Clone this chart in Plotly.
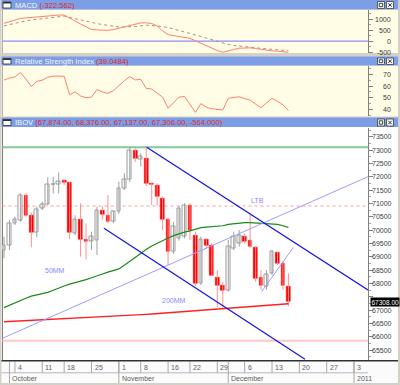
import plotly.graph_objects as go

W, H = 400, 385
def px(x): return x / W
def py(y): return 1 - y / H

# ---------------- data ----------------
dates = ["Sep 30", "Oct 1", "Oct 4", "Oct 5", "Oct 6", "Oct 7", "Oct 8", "Oct 11", "Oct 13", "Oct 14",
         "Oct 15", "Oct 18", "Oct 19", "Oct 20", "Oct 21", "Oct 22", "Oct 25", "Oct 26", "Oct 27", "Oct 28",
         "Oct 29", "Nov 1", "Nov 3", "Nov 4", "Nov 5", "Nov 8", "Nov 9", "Nov 10", "Nov 11", "Nov 12",
         "Nov 16", "Nov 17", "Nov 18", "Nov 19", "Nov 22", "Nov 23", "Nov 24", "Nov 25", "Nov 26", "Nov 29",
         "Nov 30", "Dec 1", "Dec 2", "Dec 3", "Dec 6", "Dec 7", "Dec 8", "Dec 9", "Dec 10", "Dec 13",
         "Dec 14", "Dec 15", "Dec 16"]
opens = [69250, 69437, 70250, 70375, 71312, 70562, 69900, 70812, 70962, 71690,
         71712, 71850, 71775, 69875, 70412, 69662, 69562, 69625, 70750, 70562,
         70312, 70687, 71562, 71900, 73000, 72650, 72687, 71750, 71662, 71187,
         70400, 69187, 69687, 69750, 70937, 69812, 68000, 69650, 69437, 68225,
         67937, 67750, 69312, 69500, 69775, 69625, 69350, 68225, 67875, 68375,
         69150, 68750, 67874]
highs = [69750, 70375, 70500, 71375, 71375, 70650, 70875, 71062, 71975, 72000,
         72162, 71900, 71812, 70550, 71000, 70250, 69937, 70875, 70875, 71312,
         70750, 71812, 72125, 73125, 73062, 72875, 73125, 71775, 71750, 71250,
         70450, 70300, 70900, 71000, 71000, 69937, 69750, 69687, 69500, 68500,
         68062, 69625, 69937, 70000, 69875, 70562, 69400, 68500, 68500, 69250,
         69187, 68812, 68376]
lows = [68937, 69250, 70187, 70312, 70500, 69350, 69725, 70750, 70937, 71375,
        71375, 71687, 69650, 69800, 69000, 68900, 69250, 69062, 70400, 70250,
        70250, 70600, 71500, 71800, 72550, 72375, 71650, 70937, 70912, 70000,
        68687, 69100, 69600, 69687, 69625, 67900, 67937, 69300, 68275, 67100,
        67090, 67687, 69250, 69375, 69500, 69312, 68062, 67750, 67750, 68312,
        68687, 67750, 67137]
closes = [69437, 70250, 70412, 71312, 70562, 69900, 70775, 70962, 71712, 71712,
          71837, 71775, 69900, 70412, 69662, 69562, 69750, 70750, 70600, 70337,
          70687, 71562, 71900, 73000, 72687, 72775, 71750, 71700, 71250, 70400,
          69187, 70125, 70812, 70937, 70000, 68000, 69650, 69437, 68312, 67937,
          67750, 69375, 69750, 69812, 69562, 69375, 68187, 67937, 68350, 69187,
          68750, 67937, 67306]
ma50 = [67090, 67180, 67280, 67380, 67440, 67520, 67570, 67600, 67660, 67740,
        67830, 67900, 67970, 68020, 68070, 68140, 68210, 68270, 68350, 68420,
        68470, 68540, 68680, 68830, 68990, 69140, 69270, 69400, 69510, 69610,
        69700, 69790, 69860, 69920, 69970, 70020, 70090, 70110, 70120, 70130,
        70160, 70210, 70240, 70265, 70275, 70275, 70265, 70250, 70240, 70230,
        70210, 70160, 70100]
ma200 = [66560, 66570, 66580, 66590, 66600, 66610, 66620, 66628, 66636, 66645,
         66654, 66663, 66672, 66681, 66690, 66700, 66710, 66720, 66730, 66740,
         66752, 66764, 66776, 66790, 66805, 66820, 66835, 66850, 66866, 66882,
         66898, 66914, 66930, 66946, 66962, 66978, 66995, 67010, 67025, 67040,
         67055, 67070, 67085, 67100, 67115, 67130, 67145, 67160, 67175, 67190,
         67205, 67220, 67235]
macd = [810, 885, 960, 1031, 1055, 1078, 1101, 1126, 1148, 1171,
        1184, 1184, 1037, 909, 777, 654, 529, 508, 493, 493,
        524, 585, 654, 723, 785, 831, 831, 800, 693, 462,
        293, 247, 217, 171, 125, 17, -90, -229, -321, -428,
        -505, -459, -382, -321, -306, -306, -336, -382, -428, -444,
        -459, -474, -505]
signal = [693, 754, 816, 877, 923, 962, 992, 1023, 1061, 1092,
          1115, 1138, 1077, 1015, 954, 893, 847, 800, 754, 708,
          662, 647, 647, 647, 662, 693, 724, 708, 693, 662,
          616, 555, 493, 432, 370, 293, 217, 140, 63, -13,
          -90, -152, -198, -229, -259, -275, -305, -328, -352, -375,
          -398, -413, -428]
rsi = [65, 66.8, 67.8, 71.5, 66, 59.5, 64, 65, 67.5, 68.4,
       68.5, 68.3, 52.5, 55, 51.5, 50, 50.5, 57, 54.8, 53.7,
       56, 60.5, 64.5, 68, 65.2, 65.7, 58, 57.4, 54, 50.5,
       41, 45.5, 50.5, 51, 44.4, 37.5, 45, 41.8, 40.5, 40,
       39.5, 49.5, 50.3, 50.8, 49.2, 48, 44.5, 41.5, 45.5, 49.5,
       47, 44, 39]

# trend lines (trading-day index, value)
ltb_x, ltb_y = [26.09, 66.55], [73100, 67750]
chan_x, chan_y = [18.28, 55.03], [70063, 65150]
lta_x, lta_y = [-0.27, 66.55], [65940, 71999]
lta2_x, lta2_y = [47.11, 52.89], [67687, 69344]
resist_level = 73100
dotted_level = 70900
support_level = 65850

ibov_ticks = [73500, 73000, 72500, 72000, 71500, 71000, 70500, 70000, 69500, 69000,
              68500, 68000, 67000, 66500, 66000, 65500]
macd_ticks = [1000, 500, 0, -500]
rsi_ticks = [70, 60, 50, 40]
week_idx = [2, 7, 11, 16, 21, 25, 30, 34, 39, 44, 49, 54, 59, 64]
week_lbl = ["4", "11", "18", "25", "1", "8", "16", "22", "29", "6", "13", "20", "27", "3"]
month_idx = [1, 21, 41, 64]
month_lbl = ["October", "November", "December", "2011"]
last_price_label = "67308.00"

idx = list(range(len(opens)))

fig = go.Figure()

# ---------------- candles ----------------
up = [i for i in idx if closes[i] >= opens[i]]
dn = [i for i in idx if closes[i] < opens[i]]

def wicks(sel):
    xs, ys = [], []
    for i in sel:
        xs += [i, i, None]
        ys += [lows[i], highs[i], None]
    return xs, ys

wx, wy = wicks(up)
fig.add_trace(go.Scatter(x=wx, y=wy, mode="lines", line=dict(color="#a0a0a0", width=1),
                         hoverinfo="skip", xaxis="x", yaxis="y"))
wx, wy = wicks(dn)
fig.add_trace(go.Scatter(x=wx, y=wy, mode="lines", line=dict(color="#ff9090", width=1),
                         hoverinfo="skip", xaxis="x", yaxis="y"))
fig.add_trace(go.Bar(x=up, y=[closes[i] - opens[i] for i in up], base=[opens[i] for i in up],
                     width=0.68, marker=dict(color="white", line=dict(color="#9a9a9a", width=1)),
                     xaxis="x", yaxis="y"))
fig.add_trace(go.Bar(x=dn, y=[opens[i] - closes[i] for i in dn], base=[closes[i] for i in dn],
                     width=0.68, marker=dict(color="#ff0000", line=dict(color="#ff0000", width=0.5)),
                     xaxis="x", yaxis="y"))

# moving averages
fig.add_trace(go.Scatter(x=idx, y=ma50, mode="lines", line=dict(color="#1a8a1a", width=1.2),
                         xaxis="x", yaxis="y"))
fig.add_trace(go.Scatter(x=idx, y=ma200, mode="lines", line=dict(color="#ff2020", width=1.3),
                         xaxis="x", yaxis="y"))
# trend lines
fig.add_trace(go.Scatter(x=lta_x, y=lta_y, mode="lines", line=dict(color="#9c9cff", width=1),
                         xaxis="x", yaxis="y"))
fig.add_trace(go.Scatter(x=lta2_x, y=lta2_y, mode="lines", line=dict(color="#9c9cff", width=1),
                         xaxis="x", yaxis="y"))
fig.add_trace(go.Scatter(x=ltb_x, y=ltb_y, mode="lines", line=dict(color="#1010e8", width=1.2),
                         xaxis="x", yaxis="y"))
fig.add_trace(go.Scatter(x=chan_x, y=chan_y, mode="lines", line=dict(color="#1010e8", width=1.2),
                         xaxis="x", yaxis="y"))

# MACD
fig.add_trace(go.Scatter(x=idx, y=signal, mode="lines", line=dict(color="#b09080", width=1, dash="dot"),
                         xaxis="x", yaxis="y2"))
fig.add_trace(go.Scatter(x=idx, y=macd, mode="lines", line=dict(color="#ff8070", width=1),
                         xaxis="x", yaxis="y2"))
# RSI
fig.add_trace(go.Scatter(x=idx, y=rsi, mode="lines", line=dict(color="#ff8070", width=1),
                         xaxis="x", yaxis="y3"))

# ---------------- shapes ----------------
shapes = []
GRAY = "#d4d0c8"
BLUE = "#7b9ee6"
YEL = "#fffde6"

def rect(x0, y0, x1, y1, fill, line=None, lw=0, layer="below"):
    shapes.append(dict(type="rect", xref="paper", yref="paper", x0=px(x0), x1=px(x1),
                       y0=py(y1), y1=py(y0), fillcolor=fill,
                       line=dict(color=line or fill, width=lw), layer=layer))

def pline(x0, y0, x1, y1, color, w=1, layer="below", dash=None):
    d = dict(type="line", xref="paper", yref="paper", x0=px(x0), x1=px(x1), y0=py(y0), y1=py(y1),
             line=dict(color=color, width=w), layer=layer)
    if dash:
        d["line"]["dash"] = dash
    shapes.append(d)

# panel backgrounds
rect(1.5, 9.5, 398, 53, YEL)
rect(1.5, 65.5, 398, 116.5, YEL)
rect(1.5, 127, 398, 360, "white")
rect(1.5, 361, 398, 383, "#fbfbfb")
# title bars
for (t0, t1) in [(0, 9.5), (56.5, 65.5), (117.5, 127)]:
    rect(1.5, t0, 398, t1, BLUE)
    rect(3, t0 + 2, 11, t1 - 1.5, "white", line="#303030", lw=0.8)
    rect(3, t0 + 2, 11, t0 + 3.5, "#303030")
    rect(377.5, t0 + 1.5, 384.5, t1 - 1, "#f4f4f4", line="#404040", lw=0.8)
    rect(386.5, t0 + 1.5, 393.5, t1 - 1, "#f4f4f4", line="#404040", lw=0.8)
    rect(379.3, t0 + 3.3, 382.7, t1 - 2.8, "#f4f4f4", line="#202020", lw=0.8)
    pline(388.3, t0 + 3.3, 391.7, t1 - 2.8, "#202020", 0.9)
    pline(388.3, t1 - 2.8, 391.7, t0 + 3.3, "#202020", 0.9)

# left borders
pline(2.5, 127, 2.5, 360, "#808080", 1)
pline(2.5, 9.5, 2.5, 53, "#b0b0b0", 1)
pline(2.5, 65.5, 2.5, 116.5, "#b0b0b0", 1)

# horizontal levels in IBOV panel
shapes.append(dict(type="line", xref="x domain", yref="y", x0=0, x1=1, y0=resist_level, y1=resist_level,
                   line=dict(color="#86c896", width=2), layer="below"))
shapes.append(dict(type="line", xref="x domain", yref="y", x0=0, x1=1, y0=dotted_level, y1=dotted_level,
                   line=dict(color="#ff9c9c", width=1, dash="dot"), layer="below"))
shapes.append(dict(type="line", xref="x domain", yref="y", x0=0, x1=1, y0=support_level, y1=support_level,
                   line=dict(color="#ffc8c8", width=2), layer="below"))
# MACD zero line
shapes.append(dict(type="line", xref="x domain", yref="y2", x0=0, x1=1, y0=0, y1=0,
                   line=dict(color="#8c8cff", width=1.2), layer="below"))

# x-axis band
pline(1.5, 360.8, 398, 360.8, "#303030", 1.6, layer="above")
pline(1.5, 372.8, 368, 372.8, "#b8b8b8", 1)
for i in week_idx:
    shapes.append(dict(type="line", xref="x", yref="paper", x0=i, x1=i, y0=py(372.8), y1=py(361.5),
                       line=dict(color="#a8a8a8", width=1), layer="below"))
for i in month_idx:
    shapes.append(dict(type="line", xref="x", yref="paper", x0=i, x1=i, y0=py(383), y1=py(361.5),
                       line=dict(color="#a8a8a8", width=1), layer="below"))
rect(0, 383, 400, 385, GRAY)

annotations = []
FONT = "Liberation Sans"
TXT = "#404040"

for v in ibov_ticks:
    annotations.append(dict(xref="paper", yref="y", x=px(393.5), y=v, text=str(v), showarrow=False,
                            xanchor="right", yanchor="middle", font=dict(size=7, color=TXT, family=FONT)))
for v in macd_ticks:
    annotations.append(dict(xref="paper", yref="y2", x=px(393), y=v, text=str(v), showarrow=False,
                            xanchor="right", yanchor="middle", font=dict(size=7, color=TXT, family=FONT)))
for v in rsi_ticks:
    annotations.append(dict(xref="paper", yref="y3", x=px(393), y=v, text=str(v), showarrow=False,
                            xanchor="right", yanchor="middle", font=dict(size=7, color=TXT, family=FONT)))
annotations.append(dict(xref="paper", yref="y", x=px(369.5), y=closes[-1], text=last_price_label,
                        showarrow=False, xanchor="left", yanchor="middle", bgcolor="black",
                        borderpad=0.5, font=dict(size=6.5, color="white", family=FONT)))

for i, t in zip(week_idx, week_lbl):
    annotations.append(dict(xref="x", yref="paper", x=i, y=py(367), text=t, showarrow=False,
                            xanchor="left", yanchor="middle", xshift=1,
                            font=dict(size=7, color="#606060", family=FONT)))
for i, t in zip(month_idx, month_lbl):
    annotations.append(dict(xref="x", yref="paper", x=i, y=py(378), text=t, showarrow=False,
                            xanchor="left", yanchor="middle", xshift=1,
                            font=dict(size=7, color="#606060", family=FONT)))

# panel titles
def title(y, name, val):
    annotations.append(dict(xref="paper", yref="paper", x=px(12.5), y=py(y), showarrow=False,
                            xanchor="left", yanchor="middle",
                            text=name + " <span style='color:#e02828'>" + val + "</span>",
                            font=dict(size=7.6, color="#f4f4f4", family=FONT)))
title(5, "MACD", "(-322.562)")
title(61.2, "Relative Strength Index", "(39.0484)")
title(122.4, "IBOV", "(67,874.00, 68,376.00, 67,137.00, 67,306.00, -564,000)")

# chart labels
lab_font = dict(size=7, color="#8a8aff", family=FONT)
annotations.append(dict(xref="x", yref="y", x=46.3, y=71125, text="LTB", showarrow=False, font=lab_font))
annotations.append(dict(xref="x", yref="y", x=9.4, y=68470, text="50MM", showarrow=False, font=lab_font))
annotations.append(dict(xref="x", yref="y", x=31.0, y=67375, text="200MM", showarrow=False, font=lab_font))

axis_common = dict(side="right", anchor="x", showgrid=False, zeroline=False, showticklabels=False,
                   showline=True, linecolor="#808080", linewidth=1, ticks="outside", ticklen=4,
                   tickcolor="#808080", fixedrange=True)

fig.update_layout(
    width=W, height=H, autosize=False,
    margin=dict(l=0, r=0, t=0, b=0, pad=0),
    paper_bgcolor=GRAY, plot_bgcolor="rgba(0,0,0,0)",
    showlegend=False, barmode="overlay", bargap=0,
    font=dict(family=FONT, size=7),
    xaxis=dict(domain=[px(2.5), px(368)], range=[-0.274, 66.55], anchor="y", showgrid=False,
               zeroline=False, showticklabels=False, showline=False, ticks="", fixedrange=True),
    yaxis=dict(domain=[py(360), py(127.5)], range=[65125, 73843.75], dtick=500, tick0=0,
               minor=dict(ticks="outside", ticklen=2, dtick=250, tickcolor="#a0a0a0"), **axis_common),
    yaxis2=dict(domain=[py(53), py(10)], range=[-540, 1415], dtick=500, tick0=0,
                minor=dict(ticks="outside", ticklen=2, dtick=250, tickcolor="#a0a0a0"), **axis_common),
    yaxis3=dict(domain=[py(116), py(66)], range=[34.36, 77.09], dtick=10, tick0=0,
                minor=dict(ticks="outside", ticklen=2, dtick=5, tickcolor="#a0a0a0"), **axis_common),
    shapes=shapes,
    annotations=annotations,
)

fig.write_html("out.html", config={"displayModeBar": False},
               post_script="document.body.style.margin='0px';document.body.style.overflow='hidden';")
